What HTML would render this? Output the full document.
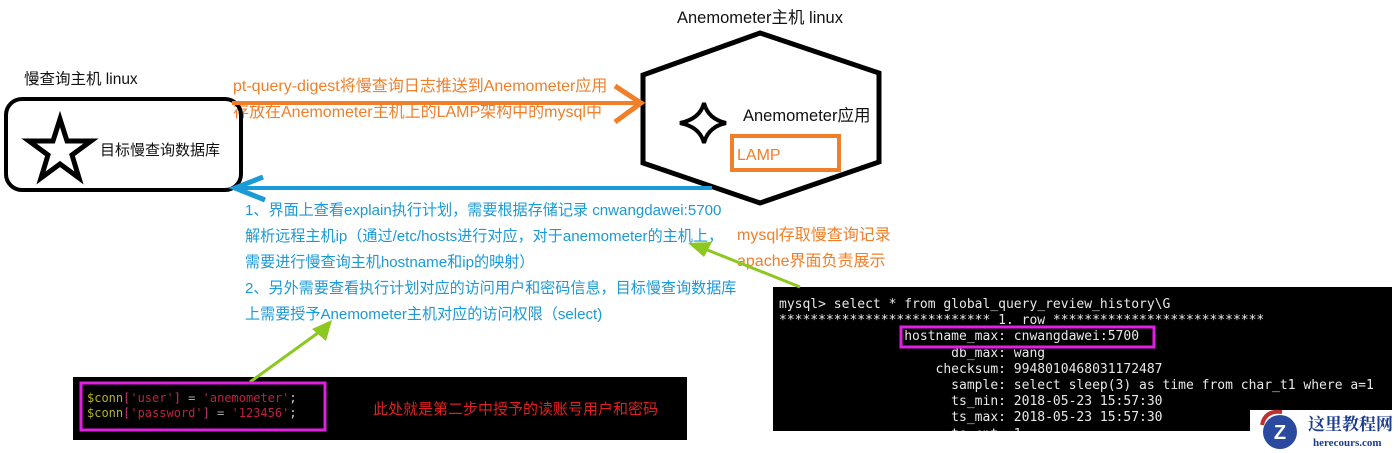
<!DOCTYPE html>
<html><head><meta charset="utf-8"><style>
body{margin:0;width:1398px;height:453px;background:#fff;position:relative;overflow:hidden;font-family:"Liberation Sans","Noto Sans CJK SC",sans-serif;}
.t{position:absolute;white-space:nowrap;line-height:1;}
.b{color:#1a9ad6;font-size:15.1px;}
.o{color:#f07f2a;font-size:16px;}
.k{color:#111;font-size:15px;}
.term{position:absolute;left:773px;top:287px;width:619px;height:144px;background:#000;overflow:hidden;}
.term pre{margin:0;position:absolute;left:6px;top:10px;font-family:"DejaVu Sans Mono","Liberation Mono",monospace;font-size:13px;line-height:16.2px;color:#e8e8e8;}
.code{position:absolute;left:73px;top:377px;width:614px;height:63px;background:#000;}
</style></head><body>
<div class="t k" style="left:24px;top:72px;font-size:15.5px;">慢查询主机 linux</div>
<div class="t k" style="left:677px;top:10px;font-size:16.5px;">Anemometer主机 linux</div>
<div class="t k" style="left:100px;top:143px;">目标慢查询数据库</div>
<div class="t k" style="left:743px;top:108px;font-size:16.5px;">Anemometer应用</div>
<div class="t o" style="left:233px;top:79px;">pt-query-digest将慢查询日志推送到Anemometer应用</div>
<div class="t o" style="left:233px;top:105px;">存放在Anemometer主机上的LAMP架构中的mysql中</div>
<div class="t o" style="left:737px;top:148px;">LAMP</div>
<div class="t b" style="left:245px;top:203px;">1、界面上查看explain执行计划，需要根据存储记录 cnwangdawei:5700</div>
<div class="t b" style="left:245px;top:229px;">解析远程主机ip（通过/etc/hosts进行对应，对于anemometer的主机上，</div>
<div class="t b" style="left:245px;top:255px;">需要进行慢查询主机hostname和ip的映射）</div>
<div class="t b" style="left:245px;top:281px;">2、另外需要查看执行计划对应的访问用户和密码信息，目标慢查询数据库</div>
<div class="t b" style="left:245px;top:307px;">上需要授予Anemometer主机对应的访问权限（select)</div>
<div class="t o" style="left:737px;top:228px;">mysql存取慢查询记录</div>
<div class="t o" style="left:737px;top:254px;">apache界面负责展示</div>

<div class="term"><pre>mysql&gt; select * from global_query_review_history\G
*************************** 1. row ***************************
                hostname_max: cnwangdawei:5700
                      db_max: wang
                    checksum: 9948010468031172487
                      sample: select sleep(3) as time from char_t1 where a=1
                      ts_min: 2018-05-23 15:57:30
                      ts_max: 2018-05-23 15:57:30
                      ts_cnt: 1</pre></div>
<div class="code">
<div class="t" style="left:14px;top:14px;font-family:'DejaVu Sans Mono',monospace;font-size:12px;line-height:15px;"><span style="color:#b5b520">$conn</span><span style="color:#c03070">[</span><span style="color:#c02040">'user'</span><span style="color:#c03070">]</span><span style="color:#aaa"> = </span><span style="color:#c02040">'anemometer'</span><span style="color:#ccc">;</span><br><span style="color:#b5b520">$conn</span><span style="color:#c03070">[</span><span style="color:#c02040">'password'</span><span style="color:#c03070">]</span><span style="color:#aaa"> = </span><span style="color:#c02040">'123456'</span><span style="color:#ccc">;</span></div>
<div class="t" style="left:300px;top:24px;color:#e02020;font-size:15px;font-family:'Noto Sans CJK SC',sans-serif;">此处就是第二步中授予的读账号用户和密码</div>
</div>

<svg width="1398" height="453" style="position:absolute;left:0;top:0" xmlns="http://www.w3.org/2000/svg">
<rect x="6" y="99" width="235" height="91" rx="16" fill="none" stroke="#000" stroke-width="4"/>
<polygon points="60,119 67,141 91,141 72,155 79,178 60,164 41,178 48,155 29,141 53,141" fill="none" stroke="#000" stroke-width="5" stroke-linejoin="miter"/>
<polygon points="760,33 879,73 879,162 760,203 643,163 643,75" fill="none" stroke="#000" stroke-width="5"/>
<path d="M704,103 Q708,119 726,123 Q708,127 704,143 Q700,127 680,123 Q700,119 704,103 Z" fill="none" stroke="#000" stroke-width="4"/>
<rect x="732" y="136" width="107" height="34" fill="none" stroke="#f07f2a" stroke-width="4"/>
<line x1="232" y1="103" x2="640" y2="103" stroke="#f07f2a" stroke-width="4"/>
<polyline points="615,86 641,103 615,122" fill="none" stroke="#f07f2a" stroke-width="5"/>
<line x1="235" y1="188" x2="712" y2="188" stroke="#1a9ad6" stroke-width="4"/>
<polyline points="263,177 235,188 265,200" fill="none" stroke="#1a9ad6" stroke-width="5"/>
<line x1="800" y1="287" x2="700" y2="247" stroke="#8cc820" stroke-width="3"/>
<polygon points="688,243 712,242 704,257" fill="#8cc820"/>
<line x1="250" y1="382" x2="322" y2="330" stroke="#8cc820" stroke-width="3"/>
<polygon points="332,320 326,341 312,329" fill="#8cc820"/>
<rect x="901" y="327" width="253" height="20" fill="none" stroke="#e020e0" stroke-width="3"/>
<rect x="81" y="383" width="244" height="47" fill="none" stroke="#e020e0" stroke-width="3"/>
<rect x="1250" y="410" width="148" height="43" fill="#fff"/>
<circle cx="1280" cy="432" r="17" fill="#2a4aa0"/>
<path d="M1262,425 Q1265,410 1282,412" fill="none" stroke="#c03030" stroke-width="4"/>
<text x="1280" y="439" font-family="Liberation Sans" font-weight="bold" font-size="20" fill="#fff" text-anchor="middle">Z</text>
<text x="1308" y="430" font-family="Noto Serif CJK SC,serif" font-weight="bold" font-size="17" fill="#1a3d8f">这里教程网</text>
<text x="1313" y="446" font-family="Liberation Serif" font-weight="bold" font-size="11" fill="#1a3d8f">herecours.com</text>
</svg>
</body></html>
